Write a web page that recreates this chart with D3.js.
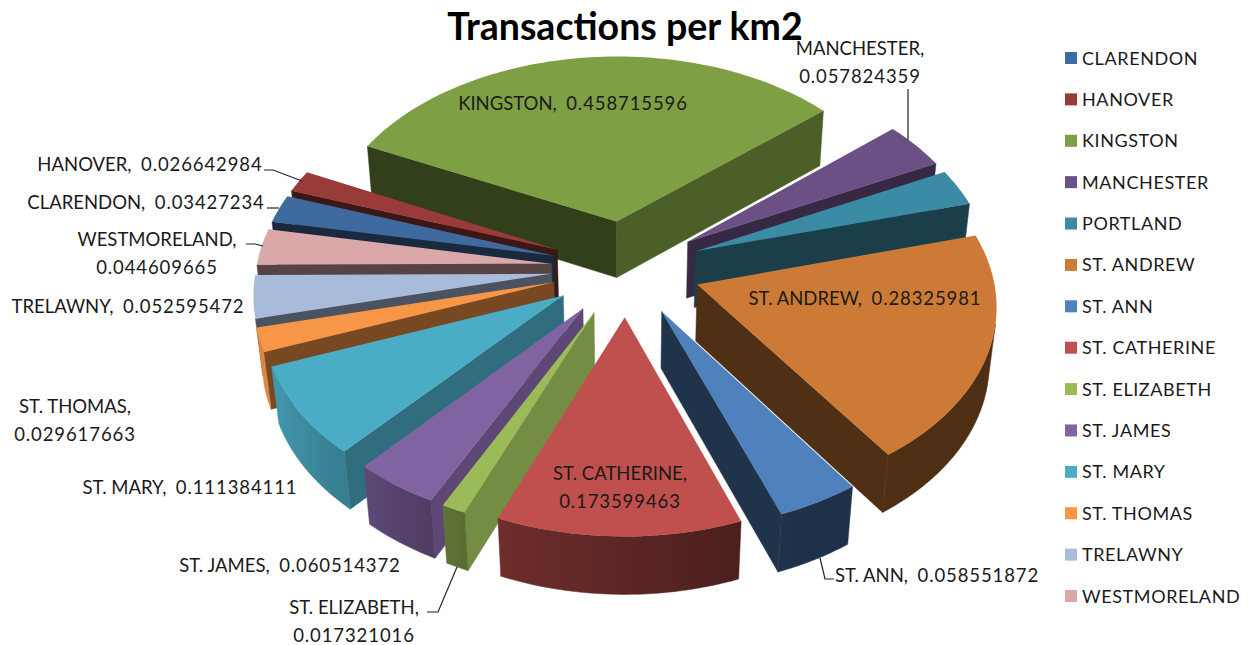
<!DOCTYPE html>
<html>
<head>
<meta charset="utf-8">
<script src="https://cdnjs.cloudflare.com/ajax/libs/d3/7.8.5/d3.min.js"></script>
<style>
    html, body { margin: 0; background: #fff; }
    text { font-family: Lato, "Open Sans", sans-serif; fill: #1a1a1a; white-space: pre; }
</style>
</head>
<body>
<svg id="chart" width="1255" height="645"></svg>
<script>
// data (PORTLAND has no label, its value is an estimate)
const regions = ["CLARENDON", "HANOVER", "KINGSTON", "MANCHESTER", "PORTLAND", "ST. ANDREW", "ST. ANN",
    "ST. CATHERINE", "ST. ELIZABETH", "ST. JAMES", "ST. MARY", "ST. THOMAS", "TRELAWNY", "WESTMORELAND"];
const values = [0.03427234, 0.026642984, 0.458715596, 0.057824359, 0.045, 0.28325981, 0.058551872,
    0.173599463, 0.017321016, 0.060514372, 0.111384111, 0.029617663, 0.052595472, 0.044609665];
const valueLabels = ["0.03427234", "0.026642984", "0.458715596", "0.057824359", null, "0.28325981", "0.058551872",
    "0.173599463", "0.017321016", "0.060514372", "0.111384111", "0.029617663", "0.052595472", "0.044609665"];
const colors = ["#3F6A9F", "#983B39", "#7F9F45", "#6A5084", "#3B8BA4", "#CC7A35", "#4F81BD",
    "#C0504D", "#9BBB59", "#8064A2", "#4BACC6", "#F79646", "#A9BBDB", "#DAA8A8"];

// middle of each label, wrap = value goes on a second line
const labelLayout = {
    "CLARENDON": { x: 146, y: 209 },
    "HANOVER": { x: 150, y: 171 },
    "KINGSTON": { x: 573, y: 110 },
    "MANCHESTER": { x: 860, y: 55, wrap: true },
    "ST. ANDREW": { x: 865, y: 305 },
    "ST. ANN": { x: 937, y: 582 },
    "ST. CATHERINE": { x: 620, y: 480, wrap: true },
    "ST. ELIZABETH": { x: 354, y: 614, wrap: true },
    "ST. JAMES": { x: 290, y: 572 },
    "ST. MARY": { x: 190, y: 494 },
    "ST. THOMAS": { x: 75, y: 413, wrap: true },
    "TRELAWNY": { x: 128, y: 313 },
    "WESTMORELAND": { x: 157, y: 246, wrap: true }
};
const leaders = [
    [[264, 170], [273, 170], [302, 181]],
    [[267, 208], [279, 208]],
    [[246, 244], [255, 244], [263, 246]],
    [[908, 89], [908, 140]],
    [[457, 567], [438, 612], [427, 612]],
    [[820, 558], [825, 579], [834, 579]]
];

const svg = d3.select('#chart');
const defs = svg.append('defs');

// 3d set up of the pie
const center = { x: 626, y: 268 };
const radius = 295, explode = 75, thickness = 75;
const tilt = 0.64, camera = 2410;
const cosTilt = Math.sqrt(1 - tilt * tilt);
const startDeg = -79.3;

function project(x, y, h) {
    const s = camera / (camera - (y * cosTilt + h * tilt));
    return [center.x + x * s, center.y + (y * tilt - h * cosTilt) * s];
}

// brightness of the walls depends on where they face (degrees, clockwise from the back)
const cutShade = d3.scaleLinear().domain([100, 165, 180, 360]).range([0.82, 0.45, 0.4, 0.38]).clamp(true);
const outerShade = d3.scaleLinear().domain([0, 157, 200, 220, 250, 360]).range([0.4, 0.38, 0.56, 0.72, 0.9, 0.9]).clamp(true);
function shade(color, f) {
    const c = d3.rgb(color);
    return d3.rgb(c.r * f, c.g * f, c.b * f).formatHex();
}
const toDeg = a => ((a * 180 / Math.PI) % 360 + 360) % 360;

const pie = d3.pie().sort(null).value(i => values[i])
    .startAngle(startDeg * Math.PI / 180).endAngle((360 + startDeg) * Math.PI / 180);
const slices = pie(d3.range(values.length));
const line = d3.line();

// a wall is only visible when its outline runs the right way round on screen
const facesCamera = quad => d3.polygonArea(quad) > 0;

// back slices first
const drawOrder = slices.slice().sort((a, b) =>
    Math.cos((b.startAngle + b.endAngle) / 2) - Math.cos((a.startAngle + a.endAngle) / 2));

const pieGroup = svg.append('g');
drawOrder.forEach(d => {
    const color = colors[d.data];
    const mid = (d.startAngle + d.endAngle) / 2;
    const ox = explode * Math.sin(mid), oy = -explode * Math.cos(mid);
    const rim = (a, h) => project(ox + radius * Math.sin(a), oy - radius * Math.cos(a), h);
    const apex = h => project(ox, oy, h);
    const g = pieGroup.append('g').attr('class', 'slice');

    // straight cut faces
    [
        { normal: toDeg(d.startAngle - Math.PI / 2), quad: [apex(0), rim(d.startAngle, 0), rim(d.startAngle, -thickness), apex(-thickness)] },
        { normal: toDeg(d.endAngle + Math.PI / 2), quad: [rim(d.endAngle, 0), apex(0), apex(-thickness), rim(d.endAngle, -thickness)] }
    ].forEach(face => {
        if (!facesCamera(face.quad)) return;
        const fill = shade(color, cutShade(face.normal));
        g.append('path')
            .attr('d', line(face.quad) + 'Z')
            .attr('fill', fill)
            .attr('stroke', fill)
            .attr('stroke-width', 0.5);
    });

    // rounded outer wall: only the part turned to the camera, shaded along x
    const steps = Math.max(2, Math.ceil((d.endAngle - d.startAngle) / (Math.PI / 120)));
    const angles = d3.range(steps + 1).map(i => d.startAngle + (d.endAngle - d.startAngle) * i / steps);
    const visible = angles.filter((a, i) => {
        const next = angles[i + 1], prev = angles[i - 1];
        const a0 = next === undefined ? prev : a, a1 = next === undefined ? a : next;
        return facesCamera([rim(a0, 0), rim(a1, 0), rim(a1, -thickness), rim(a0, -thickness)]);
    });
    if (visible.length > 1) {
        const xs = visible.map(a => rim(a, 0)[0]);
        const xMin = d3.min(xs), xMax = d3.max(xs);
        const gradientId = 'wall' + d.data;
        const grad = defs.append('linearGradient')
            .attr('id', gradientId)
            .attr('gradientUnits', 'userSpaceOnUse')
            .attr('x1', xMin).attr('x2', xMax).attr('y1', 0).attr('y2', 0);
        visible.map((a, i) => ({ a, x: xs[i] }))
            .sort((p, q) => p.x - q.x)
            .forEach(p => grad.append('stop')
                .attr('offset', (p.x - xMin) / (xMax - xMin))
                .attr('stop-color', shade(color, outerShade(toDeg(p.a)))));
        const wall = visible.map(a => rim(a, 0)).concat(visible.slice().reverse().map(a => rim(a, -thickness)));
        g.append('path')
            .attr('d', line(wall) + 'Z')
            .attr('fill', `url(#${gradientId})`)
            .attr('stroke', `url(#${gradientId})`)
            .attr('stroke-width', 0.5);
    }

    // top face
    const top = [apex(0)].concat(angles.map(a => rim(a, 0)));
    g.append('path').attr('d', line(top) + 'Z').attr('fill', color);
});

// leader lines
svg.append('g').selectAll('path')
    .data(leaders)
    .join('path')
    .attr('d', d => line(d))
    .attr('fill', 'none')
    .attr('stroke', '#222')
    .attr('stroke-width', 1.2);

// data labels, the digits of the original run a little wider than Lato's
const labels = svg.append('g').selectAll('text')
    .data(regions.filter(r => labelLayout[r]))
    .join('text')
    .attr('text-anchor', 'middle')
    .attr('font-size', 18.5);
labels.each(function (r) {
    const layout = labelLayout[r];
    const value = valueLabels[regions.indexOf(r)];
    const text = d3.select(this).attr('y', layout.y);
    if (layout.wrap) {
        text.append('tspan').attr('x', layout.x).attr('y', layout.y).text(r + ',');
        text.append('tspan').attr('x', layout.x).attr('y', layout.y + 28)
            .attr('letter-spacing', 0.9).text(value);
    } else {
        text.attr('x', layout.x);
        text.append('tspan').text(r + ',  ');
        text.append('tspan').attr('letter-spacing', 0.9).text(value);
    }
});

// title
svg.append('text')
    .text('Transactions per km2')
    .attr('x', 625)
    .attr('y', 40)
    .attr('text-anchor', 'middle')
    .attr('font-size', 37.5)
    .attr('font-weight', 700)
    .style('fill', '#000');

// legend
const legendY = d3.scalePoint().domain(regions).range([58, 596]);
const legend = svg.append('g').selectAll('g')
    .data(regions)
    .join('g')
    .attr('transform', d => `translate(1065, ${legendY(d)})`);
legend.append('rect')
    .attr('x', 0)
    .attr('y', -6)
    .attr('width', 12)
    .attr('height', 12)
    .attr('fill', (d, i) => colors[i]);
legend.append('text')
    .text(d => d)
    .attr('x', 17)
    .attr('y', 6.5)
    .attr('font-size', 18)
    .attr('letter-spacing', 0.6);
</script>
</body>
</html>
